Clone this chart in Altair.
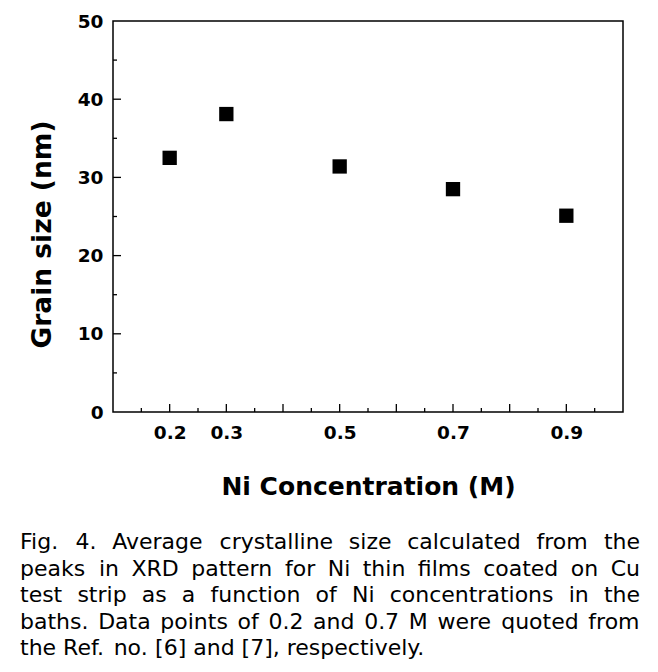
import altair as alt
import pandas as pd

# ---- data ----
conc = [0.2, 0.3, 0.5, 0.7, 0.9]
grain = [32.5, 38.1, 31.4, 28.5, 25.1]

x_label_values = [0.2, 0.3, 0.5, 0.7, 0.9]
x_major_ticks = [0.2, 0.3, 0.4, 0.5, 0.6, 0.7, 0.8, 0.9]
x_minor_ticks = [0.15, 0.25, 0.35, 0.45, 0.55, 0.65, 0.75, 0.85, 0.95]
y_label_values = [0, 10, 20, 30, 40, 50]
y_major_ticks = [10, 20, 30, 40]
y_minor_ticks = [5, 15, 25, 35, 45]

caption_lines = [
    "Fig. 4. Average crystalline size calculated from the",
    "peaks in XRD pattern for Ni thin films coated on Cu",
    "test strip as a function of Ni concentrations in the",
    "baths. Data points of 0.2 and 0.7 M were quoted from",
    "the Ref. no. [6] and [7], respectively.",
]

W, H = 510, 391
XDOM = [0.1, 1.0]
YDOM = [0, 50]
LBL = "DejaVu Sans"

# ---- caption layout (justified text, DejaVu Sans advance widths in em) ----
CW = {' ': .318, ',': .318, '.': .318, '[': .390, ']': .390,
      'A': .684, 'C': .698, 'D': .770, 'F': .575, 'M': .863, 'N': .748,
      'R': .695, 'X': .686,
      'a': .613, 'b': .635, 'c': .550, 'd': .635, 'e': .615, 'f': .352,
      'g': .635, 'h': .634, 'i': .278, 'l': .278, 'm': .974, 'n': .634,
      'o': .612, 'p': .635, 'q': .635, 'r': .411, 's': .521, 't': .392,
      'u': .634, 'v': .592, 'w': .818, 'x': .592, 'y': .592, 'z': .525}
CFS = 22
CAP_LEFT, CAP_RIGHT = 20 - 113, 640 - 113
CAP_BASE0, CAP_STEP = 549 - 21, 26.5


def tw(s):
    return sum(CW.get(c, .636) for c in s) * CFS


rows = []
for li, line in enumerate(caption_lines):
    words = line.split(" ")
    widths = [tw(w) for w in words]
    if li < len(caption_lines) - 1:
        gap = (CAP_RIGHT - CAP_LEFT - sum(widths)) / (len(words) - 1)
    else:
        gap = CW[' '] * CFS
    xpos = CAP_LEFT
    for w, wd in zip(words, widths):
        rows.append({"word": w, "px": xpos, "py": CAP_BASE0 + li * CAP_STEP})
        xpos += wd + gap
cap_df = pd.DataFrame(rows)

df = pd.DataFrame({"conc": conc, "grain": grain})

xscale = alt.Scale(domain=XDOM, nice=False, zero=False)
yscale = alt.Scale(domain=YDOM, nice=False, zero=False)

points = alt.Chart(df).mark_square(size=205, color="black", opacity=1).encode(
    x=alt.X("conc:Q", scale=xscale,
            axis=alt.Axis(values=x_label_values, format=".1f", ticks=False,
                          tickSize=0, domain=False, grid=False,
                          labelFont=LBL, labelFontWeight="bold", labelFontSize=18.5,
                          labelColor="black", labelPadding=11,
                          title="Ni Concentration (M)", titleFont=LBL,
                          titleFontWeight="bold", titleFontSize=25,
                          titleColor="black", titlePadding=33)),
    y=alt.Y("grain:Q", scale=yscale,
            axis=alt.Axis(values=y_label_values, ticks=False, tickSize=0,
                          domain=False, grid=False,
                          labelFont=LBL, labelFontWeight="bold", labelFontSize=18.5,
                          labelColor="black", labelPadding=10,
                          title="Grain size (nm)", titleFont=LBL,
                          titleFontWeight="bold", titleFontSize=26.5,
                          titleColor="black", titlePadding=21, titleY=213)),
)

ytmaj = alt.Chart(pd.DataFrame({"v": y_major_ticks})).mark_rule(color="black", strokeWidth=1.3).encode(
    y=alt.Y("v:Q", scale=yscale), x=alt.value(0), x2=alt.value(8))
ytmin = alt.Chart(pd.DataFrame({"v": y_minor_ticks})).mark_rule(color="black", strokeWidth=1.3).encode(
    y=alt.Y("v:Q", scale=yscale), x=alt.value(0), x2=alt.value(4))
xtmaj = alt.Chart(pd.DataFrame({"v": x_major_ticks})).mark_rule(color="black", strokeWidth=1.3).encode(
    x=alt.X("v:Q", scale=xscale), y=alt.value(H), y2=alt.value(H - 8))
xtmin = alt.Chart(pd.DataFrame({"v": x_minor_ticks})).mark_rule(color="black", strokeWidth=1.3).encode(
    x=alt.X("v:Q", scale=xscale), y=alt.value(H), y2=alt.value(H - 4))

caption = alt.Chart(cap_df).mark_text(font="DejaVu Sans", fontSize=CFS, align="left",
                                      baseline="alphabetic", color="black").encode(
    x=alt.X("px:Q", scale=None), y=alt.Y("py:Q", scale=None), text="word:N")

chart = alt.layer(points, ytmaj, ytmin, xtmaj, xtmin, caption).properties(
    width=W, height=H,
    autosize=alt.AutoSizeParams(type="none"),
    padding={"left": 105, "top": 13, "right": 25, "bottom": 250},
    background="white",
).configure_view(stroke="black", strokeWidth=1.5)

chart.save("out.html", embed_options={"renderer": "svg", "actions": False})
